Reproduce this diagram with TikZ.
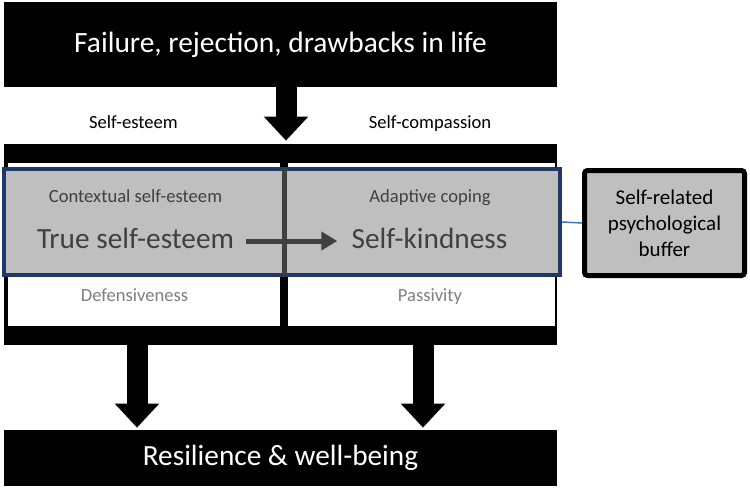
\documentclass[tikz,border=0pt]{standalone}
\usepackage{fontspec}
\setmainfont{Carlito}
\usetikzlibrary{arrows.meta}
\definecolor{boxgrey}{HTML}{BFBFBF}
\definecolor{navyline}{HTML}{1F3864}
\definecolor{darktext}{HTML}{404040}
\definecolor{lighttext}{HTML}{7F7F7F}
\definecolor{linkblue}{HTML}{4472C4}
\tikzset{every picture/.style={line width=0.75pt}}

\begin{document}
\begin{tikzpicture}[x=1pt,y=1pt,yscale=-1,xscale=1,
  blackbox/.style={fill=black,text=white,inner sep=0pt,minimum width=553pt},
  whitecell/.style={fill=white,inner sep=0pt,minimum height=163pt},
  blockarrow/.style={draw=black,line width=21pt,-{Triangle[width=43pt,length=24pt]}},
  small/.style={inner sep=0pt,text height=13pt,text depth=4pt,font=\fontsize{18.6}{22}\selectfont},
  big/.style={inner sep=0pt,text height=20pt,text depth=6pt,text=darktext,font=\fontsize{29.3}{35}\selectfont}]
\useasboundingbox (0,0) rectangle (750,488);

\node[blackbox,minimum height=85pt,font=\fontsize{29.4}{35}\selectfont] (fail) at (280.5,44.5) {Failure, rejection, drawbacks in life};
\node[blackbox,minimum height=201pt] (frame) at (280.5,244.5) {};
\node[whitecell,minimum width=272pt] (lcell) at (144,244.5) {};
\node[whitecell,minimum width=267pt] (rcell) at (421.5,244.5) {};
\node[draw=navyline,line width=4pt,fill=boxgrey,inner sep=0pt,minimum width=556pt,minimum height=106pt] (zone) at (282,222) {};
\draw[darktext,line width=5pt] (284,169) -- (284,275);
\node[blackbox,minimum height=56pt,font=\fontsize{29.3}{35}\selectfont] (resil) at (280.5,458) {Resilience \& well-being};

\node[small] (se) at (133.5,124) {Self-esteem};
\node[small] (sc) at (430,124) {Self-compassion};
\node[small,text=darktext] (ctx) at (135.5,198) {Contextual self-esteem};
\node[small,text=darktext] (adapt) at (430,198) {Adaptive coping};
\node[big] (true) at (135.5,241) {True self-esteem};
\node[big] (kind) at (429.5,241) {Self-kindness};
\node[small,text=lighttext] (def) at (134.5,297) {Defensiveness};
\node[small,text=lighttext] (pass) at (430,297) {Passivity};

\node[draw=black,line width=5pt,rounded corners=3pt,fill=boxgrey,inner sep=0pt,minimum width=160pt,minimum height=105pt,align=center,font=\fontsize{21}{26}\selectfont] (buffer) at (664.5,223) {Self-related\\psychological\\buffer};

\coordinate (ltip) at (137,0);
\coordinate (rtip) at (423,0);
\coordinate (ttip) at (286,0);
\draw[blockarrow,shorten >=3pt] (fail.south -| ttip) -- (frame.north -| ttip);
\draw[blockarrow,shorten >=2pt] (frame.south -| ltip) -- (resil.north -| ltip);
\draw[blockarrow,shorten >=2pt] (frame.south -| rtip) -- (resil.north -| rtip);
\draw[darktext,line width=5pt,-{Triangle[width=18pt,length=16pt]},shorten <=12pt,shorten >=14pt] (true.east) -- (kind.west);
\draw[linkblue,line width=1.5pt] (zone.east) -- (buffer.west);
\end{tikzpicture}
\end{document}
